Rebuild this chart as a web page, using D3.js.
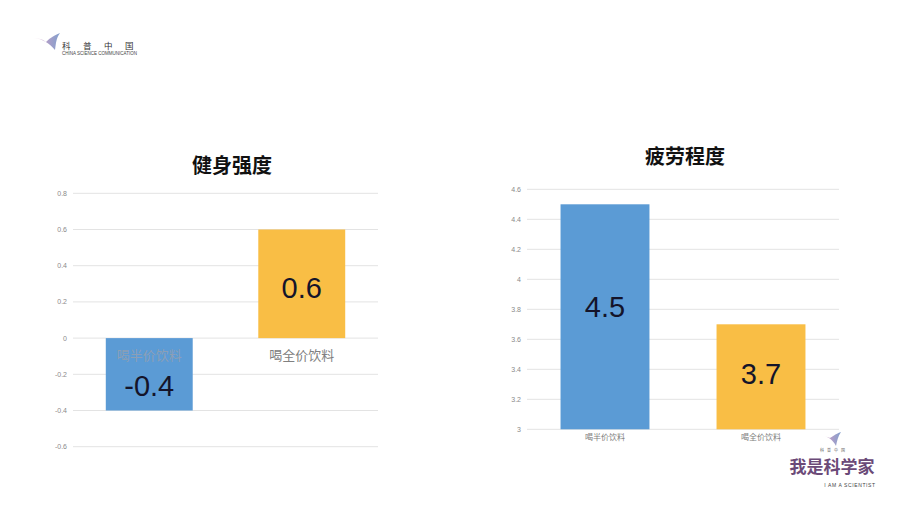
<!DOCTYPE html>
<html><head><meta charset="utf-8">
<script src="https://cdn.jsdelivr.net/npm/d3@7"></script>
<style>body{margin:0;background:#fff}svg{display:block}</style>
</head><body>
<svg id="c" width="907" height="516"></svg>
<script>
const categories = ["喝半价饮料", "喝全价饮料"];
const fitnessValues = [-0.4, 0.6];
const fatigueValues = [4.5, 3.7];
const fitnessTicks = [-0.6, -0.4, -0.2, 0, 0.2, 0.4, 0.6, 0.8];
const fatigueTicks = [3, 3.2, 3.4, 3.6, 3.8, 4, 4.2, 4.4, 4.6];
const titles = ["健身强度", "疲劳程度"];
const colors = ["#5b9bd5", "#f9be45"];

const svg = d3.select("#c");
const cjk = "'Noto Sans CJK SC', 'Noto Sans', sans-serif";
const latin = "'Liberation Sans', Arial, sans-serif";

function chart(cfg) {
  const g = svg.append("g");
  const x = d3.scaleBand().domain(categories).range([cfg.x0, cfg.x1]).paddingInner(0.43).paddingOuter(0.215);
  const y = d3.scaleLinear().domain(cfg.domain).range([cfg.y0, cfg.y1]);
  g.selectAll("line.grid").data(cfg.ticks).join("line")
    .attr("x1", cfg.x0).attr("x2", cfg.x1)
    .attr("y1", d => y(d)).attr("y2", d => y(d))
    .attr("stroke", "#e3e3e3").attr("stroke-width", 1);
  const fmt = d => (Math.round(d * 10) / 10).toString();
  g.selectAll("text.tick").data(cfg.ticks).join("text")
    .attr("x", cfg.x0 - 6).attr("y", d => y(d)).attr("dy", "0.35em")
    .attr("text-anchor", "end").attr("font-family", latin).attr("font-size", 7)
    .attr("fill", "#8a8a8a").text(fmt);
  const base = cfg.base;
  g.selectAll("rect.bar").data(cfg.values).join("rect")
    .attr("x", (d, i) => x(categories[i]))
    .attr("width", x.bandwidth())
    .attr("y", d => Math.min(y(d), y(base)))
    .attr("height", d => Math.abs(y(d) - y(base)))
    .attr("fill", (d, i) => colors[i]);
  g.selectAll("text.cat").data(categories).join("text")
    .attr("x", d => x(d) + x.bandwidth() / 2)
    .attr("y", y(base) + cfg.catDy)
    .attr("text-anchor", "middle").attr("font-family", cjk)
    .attr("font-size", cfg.catSize).attr("fill", (d, i) => (cfg.inside && i === 0) ? "#8c9fb5" : "#808080")
    .text(d => d);
  g.selectAll("text.val").data(cfg.values).join("text")
    .attr("x", (d, i) => x(categories[i]) + x.bandwidth() / 2)
    .attr("y", (d, i) => y(cfg.labelPos[i]))
    .attr("dy", "0.36em")
    .attr("text-anchor", "middle").attr("font-family", latin)
    .attr("font-size", 29).attr("fill", "#14142a")
    .text(d => d.toString());
  g.append("text").attr("x", cfg.tx).attr("y", cfg.ty).attr("dy", "0.35em")
    .attr("text-anchor", "middle").attr("font-family", cjk).attr("font-weight", "bold")
    .attr("font-size", 20).attr("fill", "#111").text(cfg.title);
}

chart({x0: 73, x1: 378, y0: 446.7, y1: 193.3, domain: [-0.6, 0.8], ticks: fitnessTicks,
  values: fitnessValues, base: 0, catDy: 22, catSize: 13, inside: true,
  labelPos: [-0.26, 0.28], title: titles[0], tx: 232, ty: 166});
chart({x0: 527, x1: 839, y0: 429.3, y1: 189.3, domain: [3, 4.6], ticks: fatigueTicks,
  values: fatigueValues, base: 3, catDy: 11, catSize: 8, inside: false,
  labelPos: [3.815, 3.37], title: titles[1], tx: 685, ty: 157});

const lg = svg.append("g");
const grad = svg.append("defs").append("linearGradient").attr("id", "lgr").attr("x1", 0).attr("x2", 1);
grad.append("stop").attr("offset", 0).attr("stop-color", "#d58ab8");
grad.append("stop").attr("offset", 1).attr("stop-color", "#6d8fc4");
lg.append("path").attr("d", "M33,38 C42,38 50,44 55,50 C56,44 56,38 60,33 C52,36 48,40 46,42 C42,39 38,38 33,38 Z")
  .attr("fill", "url(#lgr)").attr("opacity", 0.85);
lg.append("text").attr("x", 62).attr("y", 49).attr("font-family", cjk).attr("font-size", 8.5)
  .attr("fill", "#333").attr("letter-spacing", 12.5).text("科普中国");
lg.append("text").attr("x", 62).attr("y", 54.5).attr("font-family", latin).attr("font-size", 4.5)
  .attr("fill", "#444").text("CHINA SCIENCE COMMUNICATION");

const br = svg.append("g");
br.append("path").attr("d", "M822,436 C828,436 833,440 836,446 C837,441 838,436 841,432 C835,434 832,437 830,438 C828,437 825,436 822,436 Z")
  .attr("fill", "url(#lgr)").attr("opacity", 0.85);
br.append("text").attr("x", 820).attr("y", 452).attr("font-family", cjk).attr("font-size", 4)
  .attr("fill", "#666").attr("letter-spacing", 3).text("科普中国");
br.append("text").attr("x", 832).attr("y", 467).attr("dy", "0.35em").attr("text-anchor", "middle")
  .attr("font-family", cjk).attr("font-weight", "bold").attr("font-size", 17)
  .attr("fill", "#6b4a78").text("我是科学家");
br.append("text").attr("x", 850).attr("y", 487).attr("text-anchor", "middle")
  .attr("font-family", latin).attr("font-size", 5).attr("fill", "#444").attr("letter-spacing", 0.6)
  .text("I AM A SCIENTIST");
</script>
</body></html>
